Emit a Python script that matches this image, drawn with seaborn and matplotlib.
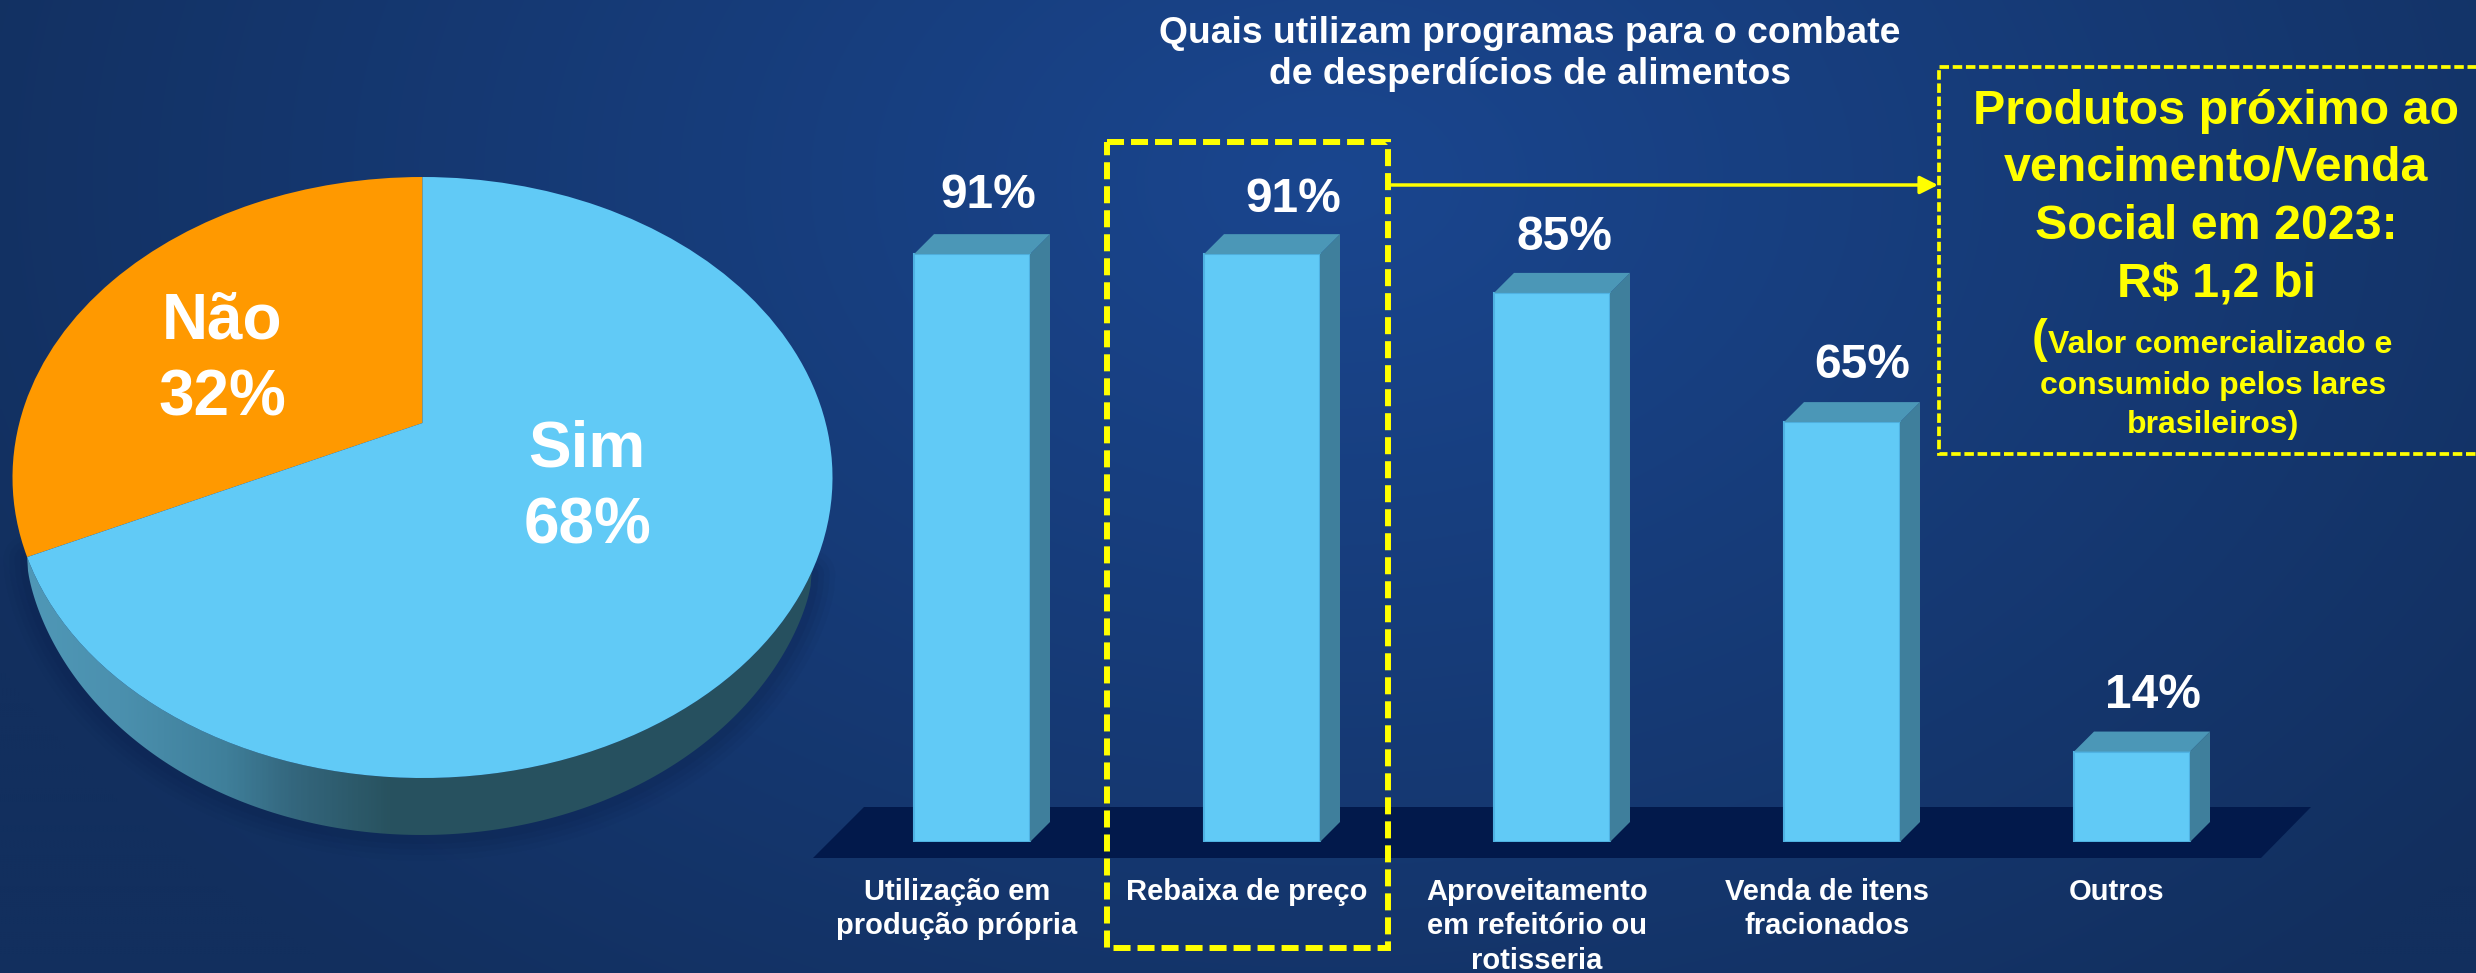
import numpy as np
import pandas as pd
import seaborn as sns
import matplotlib
matplotlib.use("Agg")
import matplotlib.pyplot as plt
from matplotlib.colors import LinearSegmentedColormap, to_rgb
from matplotlib.patches import Polygon
from matplotlib.transforms import Transform, ScaledTranslation

# ---------- data ----------
pie_categories = ["Não", "Sim"]
pie_values = [32, 68]
bar_categories = ["Utilização em\nprodução própria", "Rebaixa de preço",
                  "Aproveitamento\nem refeitório ou\nrotisseria",
                  "Venda de itens\nfracionados", "Outros"]
bar_values = [91, 91, 85, 65, 14]
title_text = "Quais utilizam programas para o combate\nde desperdícios de alimentos"
callout_main = "Produtos próximo ao\nvencimento/Venda\nSocial em 2023:\nR$ 1,2 bi"
callout_sub_first = "Valor comercializado e"
callout_sub_rest = "consumido pelos lares\nbrasileiros)"

# ---------- styles ----------
W, H = 2476, 973
BLUE = "#61CAF6"
BAR_EDGE = "#4FB2E2"
BAR_SIDE = "#3F7F9C"
BAR_TOP = "#4B97B7"
ORANGE = "#FF9900"
FLOOR = "#02194B"
YELLOW = "#FFFF00"
FONT = "Liberation Sans"

sns.set_theme(style="white")
plt.rcParams["font.family"] = [FONT, "DejaVu Sans"]
plt.rcParams["font.weight"] = "bold"

fig = plt.figure(figsize=(W / 100, H / 100), dpi=100)
ax_bg = fig.add_axes([0, 0, 1, 1], zorder=0)

# background gradient
yy, xx = np.mgrid[0:H:2, 0:W:4]
t = np.clip(np.sqrt(((xx - 1330) / 1500) ** 2 + ((yy - 180) / 1050) ** 2), 0, 1)[..., None]
c0, c1 = np.array(to_rgb("#1A468F")), np.array(to_rgb("#122F5E"))
ax_bg.imshow(c0 * (1 - t) + c1 * t, extent=(0, W, H, 0), aspect="auto", zorder=0.1,
             interpolation="bilinear")

# ---------- pie, projected in perspective ----------
CX, CY = 422.5, 423.0
PIE_TOP, PIE_BOTTOM, PIE_HALF_W, PIE_DEPTH = 177.0, 778.0, 410.0, 57.0
up, down = CY - PIE_TOP, PIE_BOTTOM - CY
P = (down - up) / (down + up)
B = down * (1 - P)
A = PIE_HALF_W * np.sqrt(1 - P ** 2)


class Perspective(Transform):
    input_dims = output_dims = 2
    is_separable = False
    has_inverse = False

    def transform_non_affine(self, values):
        values = np.asarray(values, dtype=float)
        u, v = values[:, 0], values[:, 1]
        d = 1 + P * v
        return np.column_stack([CX + A * u / d, CY - B * v / d])


persp = Perspective()
rim_start = np.deg2rad(90 + 360 * pie_values[0] / sum(pie_values))
rim_end = np.deg2rad(332)
th = np.linspace(rim_start, rim_end, 300)
edge = persp.transform_non_affine(np.column_stack([np.cos(th), np.sin(th)]))
depth = PIE_DEPTH * np.sin(np.pi * (th - rim_start) / (rim_end - rim_start)).clip(0) ** 0.35
lower = edge + np.column_stack([np.zeros_like(depth), depth])

# soft shadow around the rim
for lw, a in zip((34, 26, 18, 10), (0.06, 0.08, 0.10, 0.12)):
    ax_bg.plot(lower[:, 0], lower[:, 1] + 2, color="#0B2149", alpha=a, lw=lw,
               solid_capstyle="round", zorder=0.3)

rim_cmap = LinearSegmentedColormap.from_list(
    "rim", [(0.0, "#5099B8"), (0.13, "#4B90AE"), (0.26, "#3F7F9A"), (0.34, "#34677E"),
            (0.46, "#28525F"), (1.0, "#265060")])
rim_img = ax_bg.imshow(np.linspace(0, 1, 400)[None, :], extent=(12, 832, 900, 400), aspect="auto",
                       cmap=rim_cmap, zorder=0.5)
rim_img.set_clip_path(Polygon(np.vstack([edge, lower[::-1]]), closed=True, transform=ax_bg.transData))

wedges, _ = ax_bg.pie(pie_values, colors=[ORANGE, BLUE], startangle=90, counterclock=True,
                      wedgeprops={"linewidth": 0})
for w in wedges:
    w.set_transform(persp + ax_bg.transData)
    w.set_clip_on(False)
    w.set_zorder(1)

ax_bg.set_aspect("auto")
ax_bg.set_xlim(0, W)
ax_bg.set_ylim(H, 0)
ax_bg.set_axis_off()

for (x, y), cat, val in zip([(222.5, 415), (587, 543)], pie_categories, pie_values):
    ax_bg.text(x, y, f"{cat}\n{val}%", color="white", fontsize=46, fontweight="bold",
               ha="center", va="baseline", multialignment="center", linespacing=1.356, zorder=3)

# floor
ax_bg.add_patch(Polygon([(813, 858), (864, 807), (2311, 807), (2261, 858)], closed=True,
                        facecolor=FLOOR, edgecolor="none", zorder=0.8))

# ---------- bars ----------
BAR_ZERO_PX, PX_PER_VALUE = 842.0, 6.46
PX_PER_CAT, FIRST_BAR_CENTER = 290.0, 972.0
ax_left = FIRST_BAR_CENTER - PX_PER_CAT / 2
ax_bar = fig.add_axes([ax_left / W, (H - BAR_ZERO_PX) / H, 5 * PX_PER_CAT / W, 100 * PX_PER_VALUE / H],
                      zorder=1)
df = pd.DataFrame({"categoria": bar_categories, "valor": bar_values})
sns.barplot(data=df, x="categoria", y="valor", ax=ax_bar, color=BLUE, saturation=1, width=0.4,
            linewidth=1.5, edgecolor=BAR_EDGE, legend=False)
ax_bar.set_xlim(-0.5, 4.5)
ax_bar.set_ylim(0, 100)
ax_bar.patch.set_alpha(0)
for s in ax_bar.spines.values():
    s.set_visible(False)
ax_bar.yaxis.set_visible(False)
ax_bar.set_xlabel("")
ax_bar.tick_params(axis="x", length=0, pad=26, colors="white")
shift = ScaledTranslation(-15 / 100, 0, fig.dpi_scale_trans)
for lab in ax_bar.get_xticklabels():
    lab.set_fontsize(21)
    lab.set_fontweight("bold")
    lab.set_linespacing(1.29)
    lab.set_transform(lab.get_transform() + shift)

dx = 20 / PX_PER_CAT
dy = 20 / PX_PER_VALUE
label_dx = [16, 31, 12, 20, 21]
label_dy = [46, 42, 43, 44, 44]
for bar, val, ox, oy in zip(ax_bar.containers[0], bar_values, label_dx, label_dy):
    x0, w, h = bar.get_x(), bar.get_width(), bar.get_height()
    x1 = x0 + w
    ax_bar.add_patch(Polygon([(x1, 0), (x1 + dx, dy), (x1 + dx, h + dy), (x1, h)], closed=True,
                             facecolor=BAR_SIDE, edgecolor="none", clip_on=False))
    ax_bar.add_patch(Polygon([(x0, h), (x1, h), (x1 + dx, h + dy), (x0 + dx, h + dy)], closed=True,
                             facecolor=BAR_TOP, edgecolor="none", clip_on=False))
    ax_bar.annotate(f"{val}%", xy=(x0 + w / 2, h), xytext=(ox, oy), textcoords="offset pixels",
                    color="white", fontsize=34.5, fontweight="bold", ha="center", va="baseline",
                    annotation_clip=False)

# ---------- annotations ----------
ax_bg.text(1530, 84, title_text, color="white", fontsize=26.8, fontweight="bold", ha="center",
           va="baseline", multialignment="center", linespacing=1.22, zorder=3)

# dashed highlight around second bar
ax_bg.plot([1107, 1387.5, 1387.5, 1107, 1107], [142, 142, 948, 948, 142], color=YELLOW, lw=4.3,
           ls=(0, (2.85, 1.17)), dash_joinstyle="miter", zorder=2.5)

# connector arrow
ax_bg.annotate("", xy=(1938, 185), xytext=(1388, 185),
               arrowprops=dict(arrowstyle="-|>,head_length=0.54,head_width=0.27", color=YELLOW, lw=2.5,
                               shrinkA=0, shrinkB=0, mutation_scale=20), zorder=2.5)

# call-out box (open towards the right, running off the picture)
ax_bg.plot([W + 10, 1938.5, 1938.5, W + 10], [67, 67, 454, 454], color=YELLOW, lw=2.7,
           ls=(0, (2.53, 0.99)), dash_joinstyle="miter", zorder=2.5, clip_on=True)

ax_bg.text(2216, 296, callout_main, color=YELLOW, fontsize=34.8, fontweight="bold", ha="center",
           va="baseline", multialignment="center", linespacing=1.356, zorder=3)
ax_bg.text(2040, 352, "(", color=YELLOW, fontsize=34, fontweight="bold", ha="center", va="baseline", zorder=3)
ax_bg.text(2220, 353, callout_sub_first, color=YELLOW, fontsize=23, fontweight="bold", ha="center",
           va="baseline", zorder=3)
ax_bg.text(2213, 433, callout_sub_rest, color=YELLOW, fontsize=23, fontweight="bold", ha="center",
           va="baseline", multialignment="center", linespacing=1.4, zorder=3)

fig.savefig("out.png", dpi=100)
